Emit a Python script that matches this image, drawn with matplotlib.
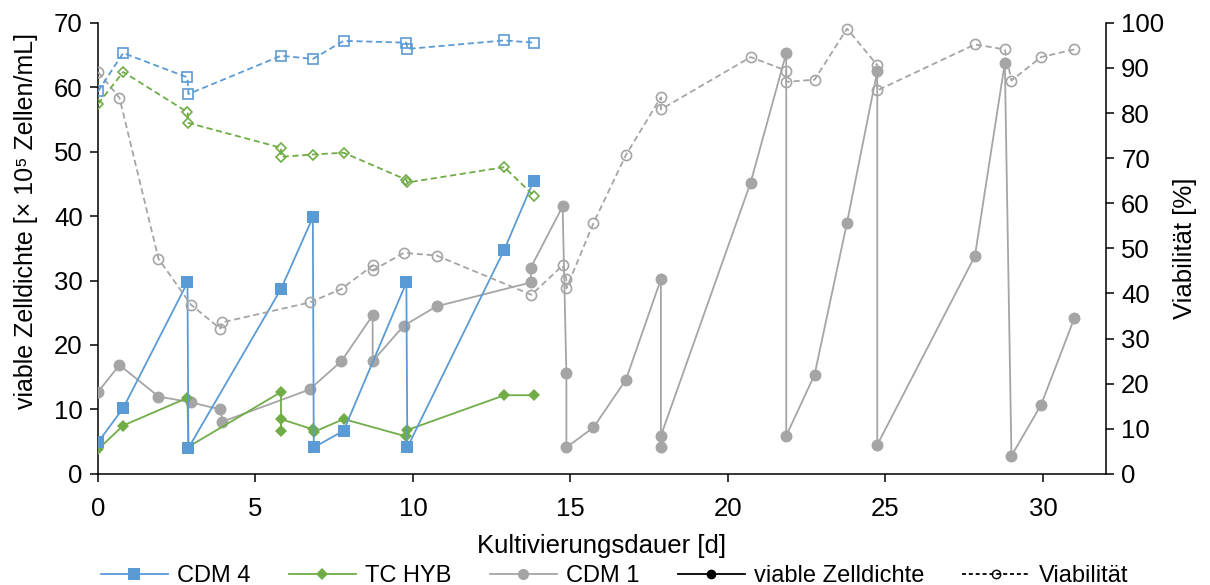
import matplotlib
matplotlib.use('Agg')
import matplotlib.pyplot as plt
from matplotlib.lines import Line2D
import numpy as np

plt.rcParams['font.family'] = ['Liberation Sans', 'DejaVu Sans']

# ------------------------------------------------------------
# Daten
# ------------------------------------------------------------
# CDM 4 und TC HYB: gemeinsame Zeitpunkte [d]
t_cdm4 = [0, 0.8, 2.84, 2.87, 5.81, 6.82, 6.85, 7.8, 9.79, 9.82, 12.9, 13.83]
vzd_cdm4 = [4.9, 10.2, 29.7, 4.0, 28.7, 39.8, 4.1, 6.7, 29.7, 4.1, 34.8, 45.5]
t_via_cdm4 = [0, 0.8, 2.84, 2.87, 5.81, 6.82, 7.8, 9.79, 9.82, 12.9, 13.83]
via_cdm4 = [84.8, 93.3, 87.9, 84.2, 92.7, 92.0, 96.0, 95.6, 94.2, 96.1, 95.6]

t_hyb = [0, 0.8, 2.84, 2.87, 5.81, 5.81, 5.81, 6.82, 6.85, 7.8, 9.79, 9.82, 12.9, 13.83]
vzd_hyb = [3.8, 7.5, 11.8, 4.2, 12.7, 6.7, 8.5, 6.9, 6.5, 8.5, 5.8, 6.8, 12.2, 12.2]
t_via_hyb = [0, 0.8, 2.84, 2.87, 5.81, 5.81, 6.82, 7.8, 9.79, 9.82, 12.9, 13.83]
via_hyb = [82.0, 89.1, 80.2, 77.8, 72.3, 70.3, 70.8, 71.2, 65.2, 64.6, 68.0, 61.7]

# CDM 1
t_cdm1 = [0, 0.68, 1.92, 2.95, 3.88, 3.95, 6.72, 7.73, 8.72, 8.72, 9.71, 10.75,
          13.74, 13.74, 14.75, 14.87, 14.87, 15.73, 16.76, 17.87, 17.87, 17.87,
          20.72, 21.85, 21.85, 22.75, 23.78, 24.74, 24.74, 27.84, 28.79, 29.0,
          29.94, 31.0]
vzd_cdm1 = [12.7, 16.9, 12.0, 11.1, 10.0, 8.1, 13.1, 17.5, 24.6, 17.5, 23.0, 26.0,
            29.7, 32.0, 41.5, 15.6, 4.1, 7.2, 14.6, 30.2, 4.1, 5.9,
            45.2, 65.3, 5.9, 15.4, 39.0, 62.5, 4.5, 33.8, 63.8, 2.8,
            10.7, 24.2]
t_via_cdm1 = [0, 0.68, 1.92, 2.95, 3.88, 3.95, 6.72, 7.73, 8.72, 8.72, 9.71, 10.75,
              13.76, 14.75, 14.87, 14.87, 15.73, 16.76, 17.87, 17.87, 20.72, 21.85,
              21.85, 22.75, 23.78, 24.74, 24.74, 27.84, 28.79, 29.0, 29.94, 31.0]
via_cdm1 = [89.1, 83.4, 47.7, 37.5, 32.2, 33.6, 38.0, 41.0, 46.2, 45.1, 49.0, 48.4,
            39.7, 46.2, 43.2, 41.1, 55.6, 70.7, 83.5, 80.8, 92.4, 89.4,
            86.9, 87.4, 98.7, 90.6, 85.0, 95.2, 94.1, 87.2, 92.4, 94.1]

c_blue = '#5B9BD5'
c_green = '#70AD47'
c_gray = '#A5A5A5'
dash = (0, (3.4, 2.0))

# ------------------------------------------------------------
# Plot
# ------------------------------------------------------------
fig = plt.figure(figsize=(12.1, 5.85), dpi=100)
ax = fig.add_axes([0.081, 0.19, 0.833, 0.771])
ax2 = ax.twinx()

lw = 1.3
ax.plot(t_cdm1, vzd_cdm1, color=c_gray, lw=lw, marker='o', ms=8.6, mew=0, zorder=3)
ax.plot(t_hyb, vzd_hyb, color=c_green, lw=lw, marker='D', ms=6.4, mew=0, zorder=4)
ax.plot(t_cdm4, vzd_cdm4, color=c_blue, lw=lw, marker='s', ms=8.5, mew=0, zorder=5)

ax2.plot(t_via_cdm1, via_cdm1, color=c_gray, lw=lw, ls=dash, marker='o', ms=7.3,
         mfc='none', mec=c_gray, mew=1.2)
ax2.plot(t_via_hyb, via_hyb, color=c_green, lw=lw, ls=dash, marker='D', ms=5.5,
         mfc='none', mec=c_green, mew=1.2)
ax2.plot(t_via_cdm4, via_cdm4, color=c_blue, lw=lw, ls=dash, marker='s', ms=7.5,
         mfc='none', mec=c_blue, mew=1.2)

ax.set_xlim(0, 32)
ax.set_ylim(0, 70)
ax2.set_ylim(0, 100)
ax.set_xticks(np.arange(0, 31, 5))
ax.set_yticks(np.arange(0, 71, 10))
ax2.set_yticks(np.arange(0, 101, 10))

for a in (ax, ax2):
    a.spines['top'].set_visible(False)
    for s in a.spines.values():
        s.set_linewidth(1.1)
    a.tick_params(direction='out', length=6, width=1.1, labelsize=18.5, pad=5)
ax.tick_params(axis='x', pad=11)
ax.spines['right'].set_visible(False)
ax2.spines['left'].set_visible(False)
ax2.spines['bottom'].set_visible(False)

ax.set_xlabel('Kultivierungsdauer [d]', fontsize=18.5, labelpad=9)
ax.set_ylabel('viable Zelldichte [× 10⁵ Zellen/mL]', fontsize=18)
ax.yaxis.set_label_coords(-0.06, 0.56)
ax2.set_ylabel('Viabilität [%]', fontsize=18.5, labelpad=6)

handles = [
    Line2D([], [], color=c_blue, lw=lw, marker='s', ms=8.5, mew=0),
    Line2D([], [], color=c_green, lw=lw, marker='D', ms=6.2, mew=0),
    Line2D([], [], color=c_gray, lw=lw, marker='o', ms=8, mew=0),
    Line2D([], [], color='black', lw=lw, marker='o', ms=7, mew=0),
    Line2D([], [], color='black', lw=lw, ls=(0, (2.2, 1.6)), marker='o', ms=6,
           mfc='none', mec='black', mew=1),
]
labels = ['CDM 4', 'TC HYB', 'CDM 1', 'viable Zelldichte', 'Viabilität']
fig.legend(handles, labels, loc='lower center', bbox_to_anchor=(0.508, -0.04),
           ncol=5, frameon=False, fontsize=17, handlelength=2.85,
           handletextpad=0.4, columnspacing=1.6)

fig.savefig('out.png', dpi=100)
